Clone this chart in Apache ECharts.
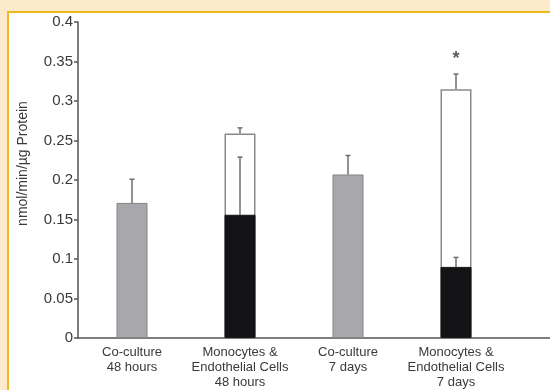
<!DOCTYPE html>
<html>
<head>
<meta charset="utf-8">
<script src="https://cdn.jsdelivr.net/npm/echarts@6/dist/echarts.min.js"></script>
<style>
  html, body { margin: 0; padding: 0; width: 550px; height: 390px; overflow: hidden; background: #fcebcb; }
  #panel { position: absolute; left: 7px; top: 11px; width: 541px; height: 377px; background: #ffffff;
           border-left: 2px solid #f0b81e; border-top: 2px solid #f0b81e; }
  #chart { position: absolute; left: 0; top: 0; width: 550px; height: 390px; }
</style>
</head>
<body>
<div id="panel"></div>
<div id="chart"></div>
<script>
// Enzyme activity per condition (nmol/min/µg protein)
const categories = [
  'Co-culture\n48 hours',
  'Monocytes &\nEndothelial Cells\n48 hours',
  'Co-culture\n7 days',
  'Monocytes &\nEndothelial Cells\n7 days'
];
const coCulture      = [0.171, '-', 0.207, '-'];
const coCultureErr   = [0.201, null, 0.231, null];
const monocytes      = ['-', 0.156, '-', 0.090];
const monocytesErr   = [null, 0.229, null, 0.102];
const combined       = ['-', 0.259, '-', 0.315];
const combinedErr    = [null, 0.266, null, 0.334];
const yTicks = { min: 0, max: 0.4, step: 0.05 };
const significance = [[3, 0.353]];

// Pairs each bar value with the top of its error bar
function errorData(values, tops) {
  const out = [];
  values.forEach((v, i) => { if (v !== '-' && tops[i] != null) out.push([i, v, tops[i]]); });
  return out;
}

function renderError(params, api) {
  const base = api.coord([api.value(0), api.value(1)]);
  const top = api.coord([api.value(0), api.value(2)]);
  const cap = 2.5;
  const style = { stroke: '#6e6e6e', lineWidth: 1.5 };
  return {
    type: 'group',
    children: [
      { type: 'line', shape: { x1: base[0], y1: base[1], x2: top[0], y2: top[1] }, style },
      { type: 'line', shape: { x1: top[0] - cap, y1: top[1], x2: top[0] + cap, y2: top[1] }, style }
    ]
  };
}

const font = 'Liberation Sans, Arial, sans-serif';
const chart = echarts.init(document.getElementById('chart'));

chart.setOption({
  animation: false,
  grid: [
    { left: 78, top: 22, width: 432, bottom: 52 },
    { left: 78, top: 22, right: 0, bottom: 52 }
  ],
  xAxis: [
    {
      type: 'category', data: categories, gridIndex: 0,
      axisLine: { show: false }, axisTick: { show: false },
      axisLabel: { color: '#3a3a3a', fontFamily: font, fontSize: 13, lineHeight: 15, margin: 7, interval: 0 }
    },
    {
      type: 'value', gridIndex: 1, min: 0, max: 1,
      axisLine: { show: true, lineStyle: { color: '#555', width: 1.5 } },
      axisTick: { show: false }, axisLabel: { show: false }, splitLine: { show: false }
    }
  ],
  yAxis: [
    {
      type: 'value', gridIndex: 0, min: yTicks.min, max: yTicks.max, interval: yTicks.step,
      name: 'nmol/min/µg Protein', nameLocation: 'middle', nameGap: 48, nameRotate: 90,
      nameTextStyle: { color: '#3a3a3a', fontFamily: font, fontSize: 14, padding: [0, 0, 0, 33] },
      axisLine: { show: true, lineStyle: { color: '#555', width: 1.5 } },
      axisTick: { show: true, length: 4, lineStyle: { color: '#555', width: 1.5 } },
      axisLabel: { color: '#3a3a3a', fontFamily: font, fontSize: 15, margin: 5,
                   formatter: v => String(+v.toFixed(2)) },
      splitLine: { show: false }
    },
    { type: 'value', gridIndex: 1, min: 0, max: 1, show: false }
  ],
  series: [
    {
      name: 'Combined', type: 'bar', data: combined, barWidth: 31, barGap: '-100%',
      itemStyle: { color: '#ffffff', borderColor: '#8a8a8a', borderWidth: 1.5 }, z: 2
    },
    {
      name: 'Co-culture', type: 'bar', data: coCulture, barWidth: 31, barGap: '-100%',
      itemStyle: { color: '#a8a8ac', borderColor: '#858585', borderWidth: 1 }, z: 3
    },
    {
      name: 'Monocytes', type: 'bar', data: monocytes, barWidth: 31, barGap: '-100%',
      itemStyle: { color: '#141416', borderColor: '#141416', borderWidth: 1 }, z: 3
    },
    { type: 'custom', renderItem: renderError, data: errorData(combined, combinedErr), z: 4 },
    { type: 'custom', renderItem: renderError, data: errorData(coCulture, coCultureErr), z: 4 },
    { type: 'custom', renderItem: renderError, data: errorData(monocytes, monocytesErr), z: 4 },
    {
      type: 'scatter', data: significance, symbolSize: 0, z: 5,
      label: { show: true, position: 'inside', formatter: '*', color: '#333', fontSize: 18,
               fontWeight: 'bold', fontFamily: font }
    }
  ]
});
</script>
</body>
</html>
